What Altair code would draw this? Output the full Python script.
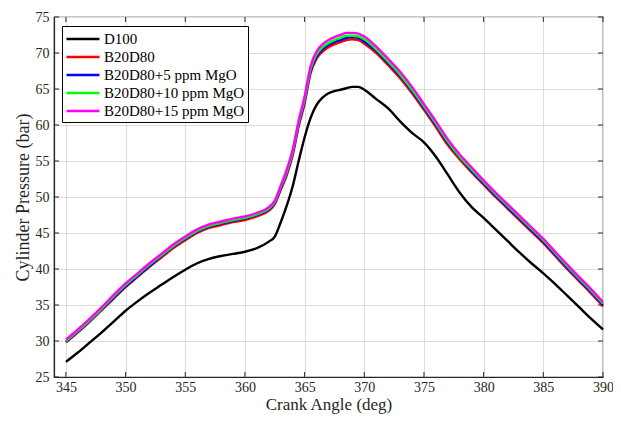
import altair as alt
import pandas as pd

angle = [345, 346, 347, 348, 349, 350, 351, 352, 353, 354, 355, 356, 357, 358, 359, 360, 361, 362,
         362.5, 363, 363.5, 364, 364.5, 365, 365.5, 366, 366.5, 367, 367.5, 368, 368.5, 369, 369.5, 370,
         371, 372, 373, 374, 375, 376, 377, 378, 379, 380, 381, 382, 383, 384, 385, 386, 387, 388, 389, 390]

d100 = [27.1, 28.4, 29.8, 31.2, 32.7, 34.2, 35.5, 36.7, 37.8, 38.9, 39.9, 40.8, 41.4, 41.8, 42.1, 42.4, 42.9, 43.8,
        44.5, 46.5, 48.8, 51.5, 55.0, 58.3, 61.0, 62.8, 63.8, 64.4, 64.7, 64.9, 65.1, 65.3, 65.3, 64.9,
        63.6, 62.3, 60.5, 58.9, 57.6, 55.6, 53.1, 50.6, 48.6, 47.1, 45.5, 43.9, 42.3, 40.8, 39.4, 37.9, 36.3, 34.7, 33.1, 31.6]

b20d80 = [29.8, 31.2, 32.7, 34.3, 35.9, 37.5, 38.9, 40.3, 41.6, 42.9, 44.0, 45.0, 45.7, 46.1, 46.5, 46.8, 47.3, 48.1,
          49.0, 51.0, 53.0, 55.8, 59.8, 63.0, 67.2, 69.2, 70.2, 70.8, 71.2, 71.5, 71.8, 71.9, 71.8, 71.3,
          70.0, 68.3, 66.5, 64.4, 62.1, 59.7, 57.2, 55.2, 53.4, 51.7, 50.0, 48.4, 46.8, 45.2, 43.6, 41.8, 40.0, 38.3, 36.6, 34.8]

b20d80_5 = [29.9, 31.3, 32.8, 34.4, 36.0, 37.6, 39.0, 40.4, 41.8, 43.1, 44.2, 45.2, 45.9, 46.3, 46.7, 47.0, 47.5, 48.3,
            49.2, 51.2, 53.3, 56.1, 60.1, 63.3, 67.5, 69.5, 70.5, 71.1, 71.5, 71.8, 72.1, 72.2, 72.1, 71.6,
            70.3, 68.6, 66.8, 64.7, 62.4, 60.0, 57.5, 55.5, 53.6, 51.9, 50.2, 48.6, 47.0, 45.4, 43.8, 42.0, 40.2, 38.5, 36.8, 35.0]

b20d80_10 = [30.0, 31.4, 32.9, 34.5, 36.2, 37.8, 39.2, 40.6, 41.9, 43.2, 44.3, 45.3, 46.0, 46.4, 46.8, 47.1, 47.6, 48.4,
             49.3, 51.4, 53.5, 56.3, 60.3, 63.6, 67.8, 69.8, 70.8, 71.4, 71.8, 72.1, 72.4, 72.4, 72.3, 71.9,
             70.5, 68.8, 67.0, 64.9, 62.6, 60.2, 57.7, 55.6, 53.8, 52.1, 50.4, 48.8, 47.2, 45.6, 44.0, 42.2, 40.4, 38.7, 37.0, 35.2]

b20d80_15 = [30.2, 31.6, 33.1, 34.7, 36.4, 38.0, 39.4, 40.8, 42.1, 43.4, 44.5, 45.5, 46.2, 46.6, 47.0, 47.3, 47.8, 48.6,
             49.5, 51.6, 53.8, 56.6, 60.6, 64.0, 68.2, 70.2, 71.2, 71.8, 72.2, 72.5, 72.8, 72.8, 72.7, 72.3,
             70.9, 69.2, 67.4, 65.3, 62.9, 60.5, 58.0, 55.9, 54.1, 52.3, 50.6, 49.0, 47.4, 45.8, 44.2, 42.4, 40.6, 38.9, 37.2, 35.4]

series_names = ["D100", "B20D80", "B20D80+5 ppm MgO", "B20D80+10 ppm MgO", "B20D80+15 ppm MgO"]
series_colors = ["#000000", "#ff0000", "#0000ff", "#00ff00", "#ff00ff"]
x_ticks = [345, 350, 355, 360, 365, 370, 375, 380, 385, 390]
y_ticks = [25, 30, 35, 40, 45, 50, 55, 60, 65, 70, 75]

all_series = [d100, b20d80, b20d80_5, b20d80_10, b20d80_15]
rows = []
for i, (name, vals) in enumerate(zip(series_names, all_series)):
    for a, v in zip(angle, vals):
        rows.append({"angle": a, "pressure": v, "series": name, "k": i})
df = pd.DataFrame(rows)

W, H = 549, 360
FONT = "Times New Roman, Liberation Serif, DejaVu Serif, serif"
INK = "#262626"

xscale = alt.Scale(domain=[344, 390], nice=False, zero=False)
yscale = alt.Scale(domain=[25, 75], nice=False, zero=False)
x_axis = alt.Axis(values=x_ticks, title="Crank Angle (deg)", labelPadding=3, titlePadding=2,
                  titleFontSize=17, labelOverlap=False, labelFlush=False)
y_axis = alt.Axis(values=y_ticks, title="Cylinder Pressure (bar)", labelPadding=5, titlePadding=3,
                  labelOverlap=False, labelFlush=False)

lines = alt.Chart(df).mark_line(strokeWidth=2.4, interpolate="monotone").encode(
    x=alt.X("angle:Q", scale=xscale, axis=x_axis),
    y=alt.Y("pressure:Q", scale=yscale, axis=y_axis),
    color=alt.Color("series:N",
                    scale=alt.Scale(domain=series_names, range=series_colors),
                    legend=alt.Legend(title=None, orient="none", legendX=8, legendY=9,
                                      symbolType="M-1,0H2.88", symbolSize=289, symbolStrokeWidth=2.5,
                                      labelFont=FONT, labelFontSize=15, labelColor="black",
                                      labelLimit=400, labelOffset=19,
                                      strokeColor="black", fillColor="white", padding=3,
                                      rowPadding=0)),
    detail="k:O",
)

xt = pd.DataFrame({"angle": x_ticks})
yt = pd.DataFrame({"pressure": y_ticks})
top_ticks = alt.Chart(xt).mark_rule(color=INK, strokeWidth=1).encode(
    x=alt.X("angle:Q", scale=xscale, axis=x_axis), y=alt.value(0), y2=alt.value(5))
bot_ticks = alt.Chart(xt).mark_rule(color=INK, strokeWidth=1).encode(
    x=alt.X("angle:Q", scale=xscale, axis=x_axis), y=alt.value(H), y2=alt.value(H - 5))
left_ticks = alt.Chart(yt).mark_rule(color=INK, strokeWidth=1).encode(
    y=alt.Y("pressure:Q", scale=yscale, axis=y_axis), x=alt.value(0), x2=alt.value(5))
right_ticks = alt.Chart(yt).mark_rule(color=INK, strokeWidth=1).encode(
    y=alt.Y("pressure:Q", scale=yscale, axis=y_axis), x=alt.value(W), x2=alt.value(W - 5))

chart = alt.layer(lines, top_ticks, bot_ticks, left_ticks, right_ticks).properties(
    width=W, height=H,
    autosize=alt.AutoSizeParams(type="none"),
    padding={"left": 46, "top": 9, "right": 10, "bottom": 40},
).configure_view(
    stroke=INK, strokeWidth=1.2
).configure_axis(
    grid=True, gridColor="#dcdcdc", gridWidth=1,
    domainColor=INK, domainWidth=1.2, ticks=False,
    labelOverlap=False, labelFlush=False,
    labelFont=FONT, labelFontSize=14, labelColor=INK,
    titleFont=FONT, titleFontSize=18, titleFontWeight="normal", titleColor=INK,
)

chart.save("out.html", embed_options={"renderer": "svg", "actions": False})
